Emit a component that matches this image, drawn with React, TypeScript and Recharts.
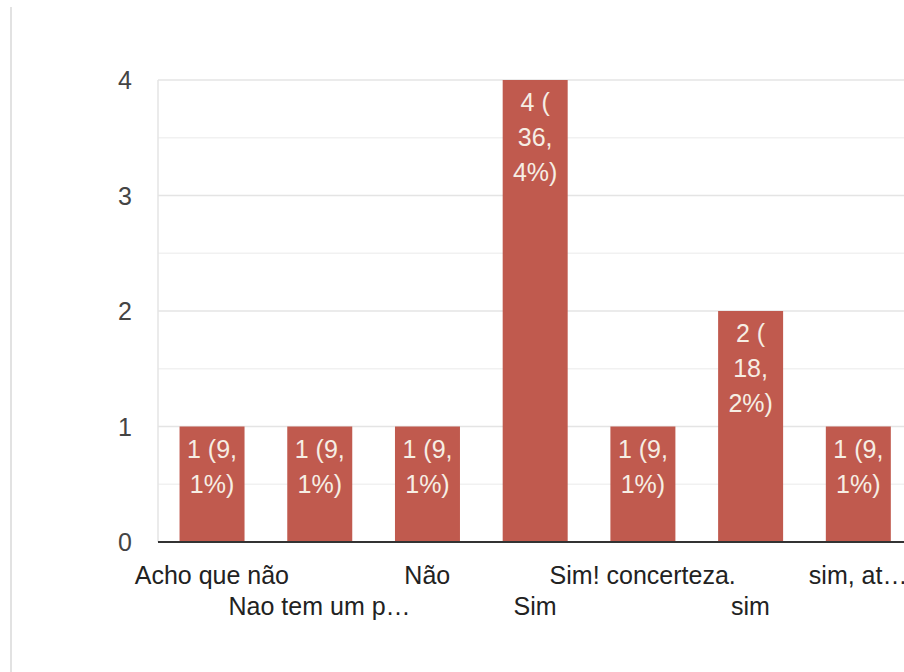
import React from "react";
import { BarChart, Bar, XAxis, YAxis, CartesianGrid, ReferenceLine, LabelList } from "recharts";

const categories = ["Acho que não", "Nao tem um p…", "Não", "Sim", "Sim! concerteza.", "sim", "sim, at…"];
const counts = [1, 1, 1, 4, 1, 2, 1];
const barLabels = [
  ["1 (9,", "1%)"],
  ["1 (9,", "1%)"],
  ["1 (9,", "1%)"],
  ["4 (", "36,", "4%)"],
  ["1 (9,", "1%)"],
  ["2 (", "18,", "2%)"],
  ["1 (9,", "1%)"],
];
const yTicks = [0, 0.5, 1, 1.5, 2, 2.5, 3, 3.5, 4];

const data = categories.map((c, i) => ({ name: c, value: counts[i], lines: barLabels[i] }));

const FONT = "'Liberation Sans', Arial, sans-serif";

const XTick = (props: any) => {
  const { x, y, payload, index } = props;
  const row = index % 2;
  return (
    <text x={x} y={y + 34 + row * 31} textAnchor="middle" fill="#222" fontSize={25} fontFamily={FONT}>
      {payload.value}
    </text>
  );
};

const YTick = (props: any) => {
  const { x, y, payload } = props;
  if (!Number.isInteger(payload.value)) return null;
  return (
    <text x={x - 18} y={y + 9} textAnchor="end" fill="#444" fontSize={25} fontFamily={FONT}>
      {payload.value}
    </text>
  );
};

const GridLine = (props: any) => {
  const { x1, x2, y1, y2, index } = props;
  const major = index % 2 === 0;
  return <line x1={x1} x2={x2} y1={y1} y2={y2} stroke={major ? "#e4e4e4" : "#f1f1f1"} strokeWidth={1.5} />;
};

const BarLabel = (props: any) => {
  const { x, y, width, index } = props;
  const lines = data[index].lines;
  return (
    <g>
      {lines.map((l: string, i: number) => (
        <text key={i} x={x + width / 2} y={y + 31 + i * 35} textAnchor="middle" fill="#f6eee4" fontSize={25} fontFamily={FONT}>
          {l}
        </text>
      ))}
    </g>
  );
};

export default function App() {
  return (
    <div style={{ position: "fixed", left: 0, top: 0, width: 904, height: 672, overflow: "hidden", background: "#fff" }}>
      <div style={{ position: "absolute", left: 10, top: 7, width: 2, height: 665, background: "#e2e2e2" }} />
      <BarChart
        width={940}
        height={672}
        data={data}
        margin={{ top: 80, right: 28, left: 0, bottom: 50 }}
        barCategoryGap="20%"
      >
        <CartesianGrid vertical={false} horizontal={<GridLine />} />
        <YAxis
          width={158}
          domain={[0, 4]}
          ticks={yTicks}
          tickLine={false}
          axisLine={{ stroke: "#e4e4e4", strokeWidth: 1.5 }}
          tick={<YTick />}
          interval={0}
        />
        <XAxis
          dataKey="name"
          height={80}
          tickLine={false}
          axisLine={{ stroke: "#333", strokeWidth: 2 }}
          tick={<XTick />}
          interval={0}
        />
        <Bar dataKey="value" fill="#c05a4e" isAnimationActive={false}>
          <LabelList dataKey="value" content={<BarLabel />} />
        </Bar>
        <ReferenceLine y={0} stroke="#333" strokeWidth={2} />
      </BarChart>
    </div>
  );
}
